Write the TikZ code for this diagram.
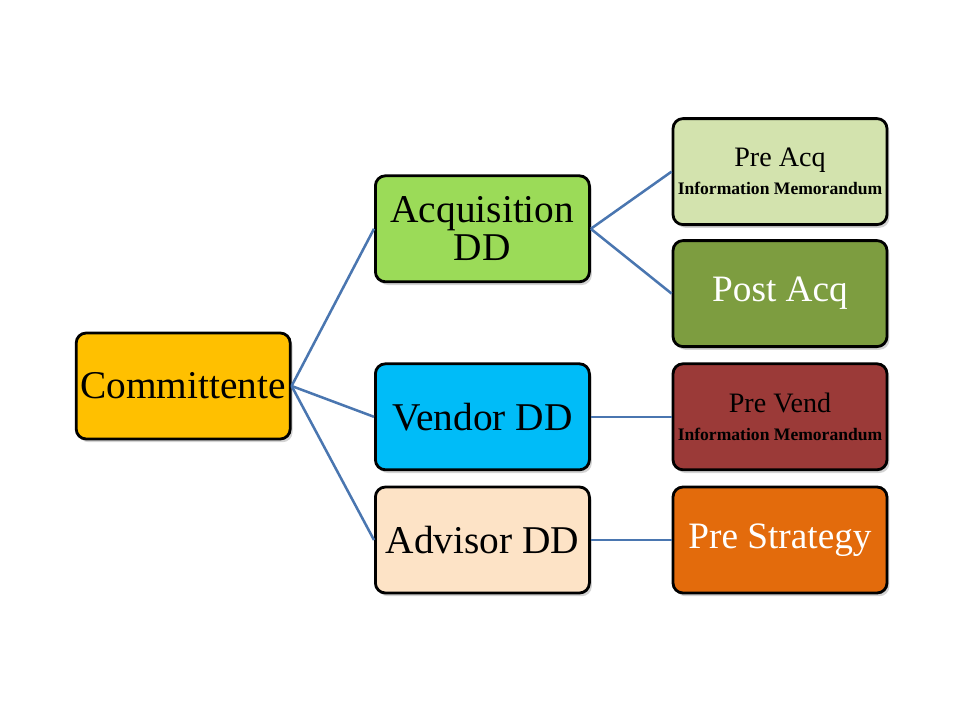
\documentclass[tikz,border=0pt]{standalone}
\usepackage{fontspec}
\setmainfont{Liberation Serif}
\usepackage{xcolor}
\usetikzlibrary{shadows}
\definecolor{linkblue}{HTML}{4A76B0}
\definecolor{clientgold}{HTML}{FFC000}
\definecolor{acqgreen}{HTML}{9BDB58}
\definecolor{vendblue}{HTML}{00BCF8}
\definecolor{advpeach}{HTML}{FDE3C6}
\definecolor{preacqgreen}{HTML}{D3E3AE}
\definecolor{postacqgreen}{HTML}{7D9D40}
\definecolor{prevendred}{HTML}{9B3A38}
\definecolor{stratorange}{HTML}{E36B0C}
\tikzset{ddbox/.style={draw=black,line width=2pt,rounded corners=0.25cm,
   minimum width=5.35cm,minimum height=2.65cm,inner sep=0pt,align=center,
   font=\fontsize{28}{27}\selectfont,
   drop shadow={opacity=0.35,shadow xshift=0.06cm,shadow yshift=-0.08cm}},
 whitetext/.style={text=white,font=\fontsize{26.5}{28}\selectfont},
 imtext/.style={font=\fontsize{20}{22}\selectfont},
 link/.style={draw=linkblue,line width=1.8pt},
 }

\begin{document}
\begin{tikzpicture}
        \useasboundingbox (0,0) rectangle (24,18);
        \node[ddbox, fill=clientgold] (client) at (4.58, 8.35) {Committente};
        \node[ddbox, fill=acqgreen] (acq) at (12.06, 12.28) {Acquisition\\DD};
        \node[ddbox, fill=vendblue] (vend) at (12.06, 7.58) {Vendor DD};
        \node[ddbox, fill=advpeach] (adv) at (12.06, 4.5) {Advisor DD};
        \node[ddbox, imtext, fill=preacqgreen] (preacq) at (19.5, 13.71)
            {Pre Acq\\[-2pt]{\bfseries\fontsize{12.5}{14}\selectfont Information Memorandum}};
        \node[ddbox, whitetext, fill=postacqgreen] (postacq) at (19.5, 10.66) {Post Acq};
        \node[ddbox, imtext, fill=prevendred] (prevend) at (19.5, 7.58)
            {Pre Vend\\[-2pt]{\bfseries\fontsize{12.5}{14}\selectfont Information Memorandum}};
        \node[ddbox, whitetext, fill=stratorange] (prestrat) at (19.5, 4.5) {Pre Strategy};
        \draw[link] (client.east) -- (acq.west);
        \draw[link] (client.east) -- (vend.west);
        \draw[link] (client.east) -- (adv.west);
        \draw[link] (acq.east) -- (preacq.west);
        \draw[link] (acq.east) -- (postacq.west);
        \draw[link] (vend.east) -- (prevend.west);
        \draw[link] (adv.east) -- (prestrat.west);
    \end{tikzpicture}
\end{document}
